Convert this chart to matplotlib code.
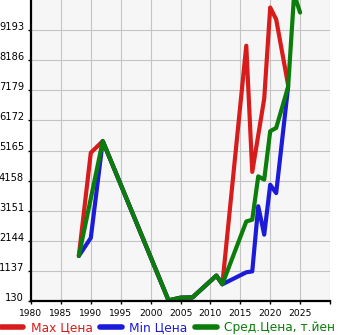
import matplotlib
matplotlib.use("Agg")
import matplotlib.pyplot as plt

# prix par année
red_years = [1988, 1990, 1992, 2003, 2005, 2007, 2011, 2012, 2016, 2017, 2019, 2020, 2021, 2023]
red_vals = [1640, 5090, 5480, 150, 240, 250, 980, 690, 8670, 4450, 6900, 9950, 9550, 7350]

blue_years = [1988, 1990, 1992, 2003, 2005, 2007, 2011, 2012, 2016, 2017, 2018, 2019, 2020, 2021, 2023]
blue_vals = [1640, 2240, 5480, 150, 240, 250, 980, 690, 1090, 1120, 3300, 2350, 4020, 3740, 7300]

green_years = [1988, 1992, 2003, 2005, 2007, 2011, 2012, 2016, 2017, 2018, 2019, 2020, 2021, 2023, 2024, 2025]
green_vals = [1640, 5480, 150, 240, 250, 980, 690, 2790, 2850, 4300, 4190, 5810, 5920, 7300, 10400, 9780]

labels = ["Max Цена", "Min Цена", "Сред.Цена, т.йен"]
colors = ["#d81b1b", "#1b1bd9", "#0b7d0b"]

yticks = [130, 1137, 2144, 3151, 4158, 5165, 6172, 7179, 8186, 9193]
xticks = list(range(1980, 2031, 5))

fig = plt.figure(figsize=(3.45, 3.35), dpi=100)
ax = fig.add_axes([31 / 345, 34 / 335, 299 / 345, 301 / 335])
ax.set_facecolor("#f6f6f6")

series = [(red_years, red_vals), (blue_years, blue_vals), (green_years, green_vals)]
for (xs, ys), c, lab in zip(series, colors, labels):
    ax.plot(xs, ys, color=c, lw=3, label=lab,
            solid_joinstyle="round", solid_capstyle="round")

ax.set_xlim(1980, 2030)
ax.set_ylim(130, 10200)
ax.set_xticks(xticks)
ax.set_xticklabels([str(x) if x < 2030 else "" for x in xticks])
ax.set_yticks(yticks)
ax.grid(True, color="#c4c4c4", lw=0.8)
ax.set_axisbelow(True)

for s in ["top", "right"]:
    ax.spines[s].set_visible(False)
for s in ["left", "bottom"]:
    ax.spines[s].set_linewidth(1.6)
    ax.spines[s].set_color("black")

ax.tick_params(axis="both", length=2.5, width=1, color="black")
ax.tick_params(axis="x", pad=3.5, labelsize=6.6)
ax.tick_params(axis="y", pad=2.5, labelsize=7.1)
for t in ax.get_yticklabels():
    t.set_va("baseline")

leg = fig.legend(loc="lower left", bbox_to_anchor=(0.0, 0.0), ncol=3, frameon=False,
                 fontsize=8.8, handlelength=1.8, handletextpad=0.6, columnspacing=0.6,
                 borderpad=0.1, borderaxespad=0.0, labelcolor="linecolor")
for h in leg.legend_handles:
    h.set_linewidth(4)

fig.savefig("out.png", dpi=100)
